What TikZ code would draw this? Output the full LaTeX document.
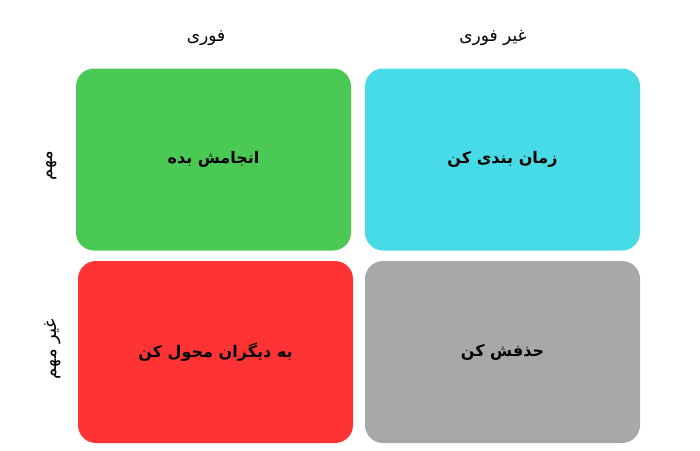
\documentclass[tikz,border=0pt]{standalone}
\usepackage{fontspec}
\usepackage{tikz}
\usepackage{xcolor}
\usetikzlibrary{positioning}
\TeXXeTstate=1
\newfontfamily\fafont[Script=Arabic]{DejaVu Sans}
\definecolor{quadgreen}{RGB}{74, 201, 84}
\definecolor{quadcyan}{RGB}{70, 219, 230}
\definecolor{quadred}{RGB}{255, 51, 51}
\definecolor{quadgray}{RGB}{168, 168, 168}

\begin{document}
\begin{tikzpicture}[
    x=1pt, y=-1pt,
    quad/.style={rectangle, rounded corners=18pt, minimum width=275pt, minimum height=182pt, inner sep=0pt, font=\fafont\bfseries\fontsize{16}{19}\selectfont},
    head/.style={font=\fafont\fontsize{17}{20}\selectfont},
    side/.style={font=\fafont\fontsize{18}{21}\selectfont, rotate=90}
]
\useasboundingbox (0,0) rectangle (700,450);

% Quadrants
\node[quad, fill=quadgreen] (doit) at (213.5,159.5) {\beginR انجامش بده\endR};
\node[quad, fill=quadcyan] (plan) at (502.5,159.5) {\beginR زمان بندی کن\endR};
\node[quad, fill=quadred] (pass) at (215.5,352) {\beginR به دیگران محول کن\endR};
\node[quad, fill=quadgray] (drop) at (502.5,352) {\beginR حذفش کن\endR};

% Column headers
\node[head] (urgent) at (206,38) {\beginR فوری\endR};
\node[head] (noturgent) at (493,38) {\beginR غیر فوری\endR};

% Row headers
\node[side] (important) at (52,166) {\beginR مهم\endR};
\node[side] (notimportant) at (53,349) {\beginR غیر مهم\endR};

\end{tikzpicture}
\end{document}
